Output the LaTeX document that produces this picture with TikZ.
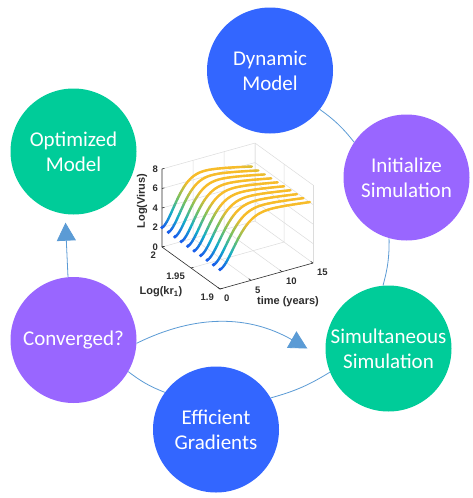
\documentclass[tikz,border=0pt]{standalone}
\usepackage{fontspec}
\setmainfont{Carlito}
\newfontfamily\plotfont{Liberation Sans}
\usetikzlibrary{arrows.meta}
\definecolor{bubbleblue}{RGB}{51,102,255}
\definecolor{bubblepurple}{RGB}{153,102,255}
\definecolor{bubblegreen}{RGB}{0,204,153}
\definecolor{loopblue}{RGB}{91,155,213}
\definecolor{pblue}{RGB}{25,95,235}
\definecolor{pteal}{RGB}{20,175,200}
\definecolor{pgreen}{RGB}{120,192,95}
\definecolor{pyellow}{RGB}{247,188,42}
\definecolor{axisgray}{RGB}{45,45,45}
\definecolor{gridgray}{RGB}{220,220,220}

\newcommand{\virusshade}[1]{%
  \pgfmathsetmacro{\vs}{min(max((#1-2)/4,0),1)}%
  \ifdim\vs pt<0.3333pt
    \pgfmathtruncatemacro{\vp}{100*(1-\vs*3)}%
    \colorlet{segc}{pblue!\vp!pteal}%
  \else\ifdim\vs pt<0.6667pt
    \pgfmathtruncatemacro{\vp}{100*(2-\vs*3)}%
    \colorlet{segc}{pteal!\vp!pgreen}%
  \else
    \pgfmathtruncatemacro{\vp}{100*(3-\vs*3)}%
    \colorlet{segc}{pgreen!\vp!pyellow}%
  \fi\fi}

\begin{document}
\begin{tikzpicture}[x=1pt, y=-1pt,
    bubble/.style={circle, minimum size=126pt, inner sep=0pt, text=white, align=center, font=\fontsize{21}{25}\selectfont},
    loopline/.style={loopblue, line width=0.8pt},
    looparrow/.style={-{Triangle[length=18pt, width=19pt]}},
    plotgrid/.style={gridgray, line width=0.5pt},
    plotaxis/.style={axisgray, line width=0.6pt},
    ticklabel/.style={font=\plotfont\fontsize{9.5}{10}\bfseries, text=axisgray, inner sep=0pt},
    axislabel/.style={font=\plotfont\fontsize{11}{12}\bfseries, text=axisgray, inner sep=0pt},
    virusline/.style={line width=2.4pt, line cap=round},
    declare function={vz(\a,\b,\c)=2+5.2*(1-exp(-(\a/\b)^1.7))-\c*(\a/15)^1.5;}]
    \fill[white] (0,0) rectangle (473,498);

    \begin{scope}[shift={(220,289)}, x={(6.2pt,1.73pt)}, y={(-58pt,42pt)}, z={(0pt,9.75pt)}]
        \foreach \s in {5,10,15}
            \draw[plotgrid] (\s,0,0) -- (\s,1,0) -- (\s,1,8);
        \foreach \k in {0.5,1}
            \draw[plotgrid] (0,\k,0) -- (15,\k,0) -- (15,\k,8);
        \draw[plotgrid] (15,0,0) -- (15,0,8);
        \foreach \h in {2,4,6,8}
            \draw[plotgrid] (0,1,\h) -- (15,1,\h) -- (15,0,\h);
        \draw[plotaxis] (0,1,8) -- (0,1,0) -- (0,0,0) -- (15,0,0);
        \foreach \h in {0,2,...,8}{
            \draw[plotaxis] (0,1,\h) -- (0.4,1,\h);
            \node[ticklabel, anchor=east] (zt\h) at ([xshift=-4pt]0,1,\h) {\h};
        }
        \foreach \k/\lab in {1/2, 0.5/1.95, 0/1.9}{
            \draw[plotaxis] (0,\k,0) -- (0.4,\k,0);
            \node[ticklabel, anchor=east] (kt\lab) at ([xshift=-6pt, yshift=-8pt]0,\k,0) {\lab};
        }
        \foreach \s in {0,5,10,15}{
            \draw[plotaxis] (\s,0,0) -- (\s,0.04,0);
            \node[ticklabel, anchor=west] (tt\s) at ([xshift=4pt, yshift=-9.5pt]\s,0,0) {\s};
        }
        \foreach \i in {0,...,9}{
            \pgfmathsetmacro{\kk}{1-\i/9}
            \pgfmathsetmacro{\tau}{3.1+0.4*\i/9}
            \pgfmathsetmacro{\dd}{1.6-0.7*\i/9}
            \foreach \s in {0,0.25,...,14.25}{
                \pgfmathsetmacro{\sb}{\s+0.25}
                \pgfmathsetmacro{\za}{vz(\s,\tau,\dd)}
                \pgfmathsetmacro{\zb}{vz(\sb,\tau,\dd)}
                \virusshade{(\za+\zb)/2}
                \draw[virusline, segc] (\s,\kk,\za) -- (\sb,\kk,\zb);
            }
            \fill[pblue] (0,\kk,2) circle (1.9pt);
        }
    \end{scope}
    \node[axislabel, rotate=90] (zlab) at (142,201) {Log(Virus)};
    \node[axislabel] (klab) at (161,292) {Log(kr\textsubscript{1})};
    \node[axislabel] (tlab) at (288,302) {time (years)};

    \node[bubble, fill=bubbleblue] (dyn) at (270,70.5) {Dynamic\\Model};
    \node[bubble, fill=bubblepurple] (init) at (406.5,177.5) {Initialize\\Simulation};
    \node[bubble, fill=bubblegreen] (simsim) at (388.5,348.5) {Simultaneous\\Simulation};
    \node[bubble, fill=bubbleblue] (grad) at (216,429.5) {Efficient\\Gradients};
    \node[bubble, fill=bubblepurple] (conv) at (73.5,340) {Converged?};
    \node[bubble, fill=bubblegreen] (opt) at (73.5,151.5) {Optimized\\Model};

    \draw[loopline] (dyn.322) to[bend left=8] (init.146);
    \draw[loopline] (init.254) to[bend left=8] (simsim.95);
    \draw[loopline] (simsim.202) to[bend left=8] (grad.30);
    \draw[loopline] (grad.144) to[bend left=8] (conv.330);
    \draw[loopline, looparrow] (conv.95) -- ([xshift=-8pt, yshift=-8pt]opt.south);
    \draw[loopline, looparrow] (conv.357) to[bend left=28] ([xshift=-18pt]simsim.west);
\end{tikzpicture}
\end{document}
